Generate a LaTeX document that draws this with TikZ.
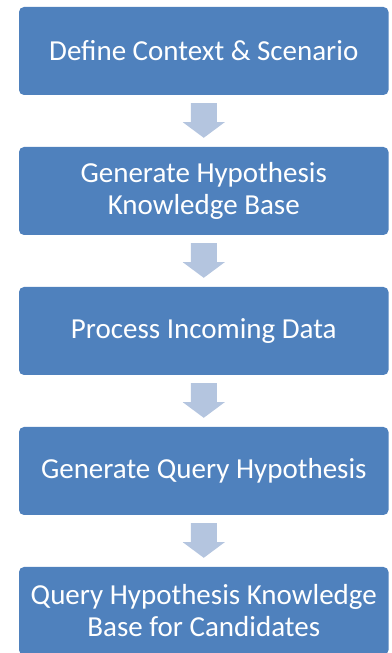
\documentclass[tikz,border=0pt]{standalone}
\usepackage{fontspec}
\setmainfont{Carlito}
\usetikzlibrary{calc}
\definecolor{boxblue}{RGB}{79,129,189}
\definecolor{arrowblue}{RGB}{180,197,223}
\tikzset{
  stepbox/.style={fill=boxblue, draw=none, rounded corners=5pt, minimum width=369.5pt,
    minimum height=88pt, inner sep=0pt, text=white, align=center,
    font=\fontsize{29}{32}\selectfont},
  blockarrow/.style={fill=arrowblue, draw=none}
}
\newcommand{\blockarrow}[2]{%
  \fill[blockarrow] ($(#1.south)+(-13,-8)$) -- ($(#1.south)+(13,-8)$) --
    ($(#1.south)+(13,-27)$) -- ($(#1.south)+(21,-27)$) -- ($(#2.north)+(0,9)$) --
    ($(#1.south)+(-21,-27)$) -- ($(#1.south)+(-13,-27)$) -- cycle;}
\begin{document}
\begin{tikzpicture}[x=1pt,y=1pt]
\useasboundingbox (0,0) rectangle (391,653);
\node[stepbox] (b1) at (203.75,602) {Define Context \& Scenario};
\node[stepbox] (b2) at (203.75,462) {Generate Hypothesis\\Knowledge Base};
\node[stepbox] (b3) at (203.75,322) {Process Incoming Data};
\node[stepbox] (b4) at (203.75,182) {Generate Query Hypothesis};
\node[stepbox] (b5) at (203.75,42) {Query Hypothesis Knowledge\\Base for Candidates};
\blockarrow{b1}{b2}
\blockarrow{b2}{b3}
\blockarrow{b3}{b4}
\blockarrow{b4}{b5}
\end{tikzpicture}
\end{document}
